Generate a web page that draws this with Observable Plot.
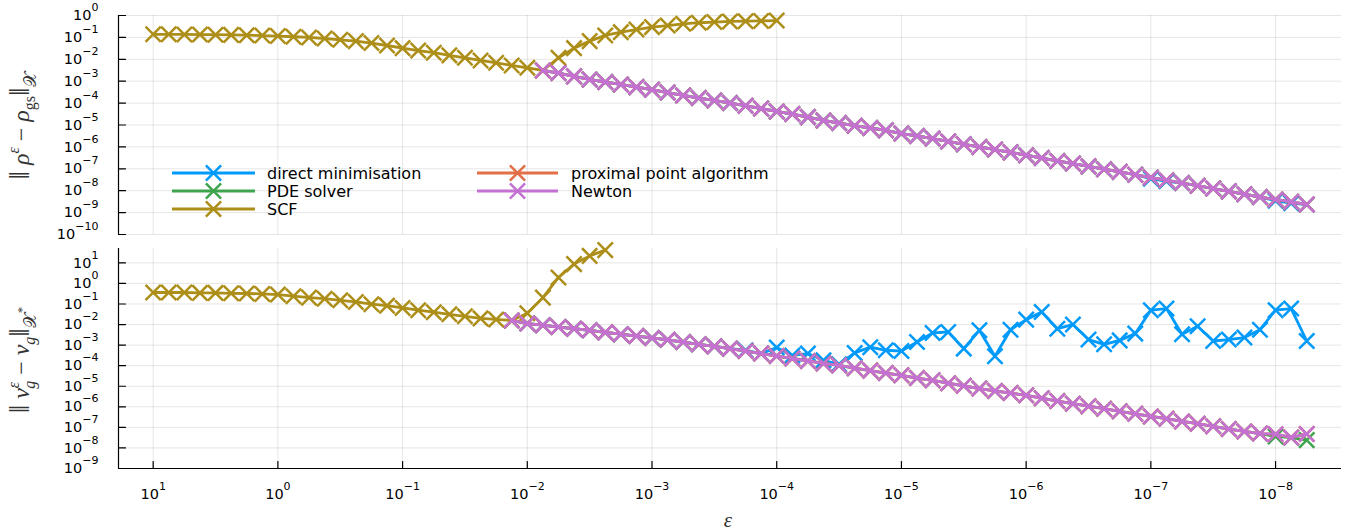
<!DOCTYPE html>
<html>
<head>
<meta charset="utf-8">
<script src="https://cdn.jsdelivr.net/npm/d3@7"></script>
<script src="https://cdn.jsdelivr.net/npm/@observablehq/plot@0.6"></script>
<style>
  body { margin: 0; background: #fff; }
  #fig { position: relative; width: 1363px; height: 531px; font-family: "DejaVu Sans", sans-serif; color: #000; }
  #fig > svg { display: block; }
  #fig svg.overlay { position: absolute; left: 0; top: 0; pointer-events: none; }
</style>
</head>
<body>
<div id="fig"></div>
<script>
// ε values: 8 per decade, from 10 down to 10^-8.25
const eps = [
  1e1, 7.499e0, 5.623e0, 4.217e0, 3.162e0, 2.371e0, 1.778e0, 1.334e0,
  1e0, 7.499e-1, 5.623e-1, 4.217e-1, 3.162e-1, 2.371e-1, 1.778e-1, 1.334e-1,
  1e-1, 7.499e-2, 5.623e-2, 4.217e-2, 3.162e-2, 2.371e-2, 1.778e-2, 1.334e-2,
  1e-2, 7.499e-3, 5.623e-3, 4.217e-3, 3.162e-3, 2.371e-3, 1.778e-3, 1.334e-3,
  1e-3, 7.499e-4, 5.623e-4, 4.217e-4, 3.162e-4, 2.371e-4, 1.778e-4, 1.334e-4,
  1e-4, 7.499e-5, 5.623e-5, 4.217e-5, 3.162e-5, 2.371e-5, 1.778e-5, 1.334e-5,
  1e-5, 7.499e-6, 5.623e-6, 4.217e-6, 3.162e-6, 2.371e-6, 1.778e-6, 1.334e-6,
  1e-6, 7.499e-7, 5.623e-7, 4.217e-7, 3.162e-7, 2.371e-7, 1.778e-7, 1.334e-7,
  1e-7, 7.499e-8, 5.623e-8, 4.217e-8, 3.162e-8, 2.371e-8, 1.778e-8, 1.334e-8,
  1e-8, 7.499e-9, 5.623e-9
];

const seriesNames = ["direct minimisation", "PDE solver", "SCF", "proximal point algorithm", "Newton"];
const seriesColors = ["#009AFA", "#3EA44E", "#AC8E18", "#E36F47", "#C371D2"];

// Density error, log10 values. Each array starts at the ε index given beside it.
const scfRhoStart = 0;
const scfRho = [
  -0.86, -0.86, -0.865, -0.87, -0.875, -0.885, -0.90, -0.915,
  -0.94, -0.97, -1.00, -1.05, -1.11, -1.17, -1.26, -1.37,
  -1.49, -1.60, -1.70, -1.82, -1.93, -2.05, -2.16, -2.28,
  -2.39, -2.51, -1.93, -1.49, -1.17, -0.91, -0.76, -0.64,
  -0.53, -0.46, -0.38, -0.33, -0.30, -0.27, -0.26, -0.25, -0.23
];
const newtonRhoStart = 25;
const newtonRho = [
  -2.51, -2.63, -2.78, -2.92, -3.04, -3.15, -3.27, -3.39, -3.52, -3.65,
  -3.77, -3.88, -4.00, -4.12, -4.25, -4.38, -4.50, -4.64, -4.79, -4.91,
  -5.03, -5.14, -5.24, -5.39, -5.50, -5.62, -5.75, -5.88, -6.00, -6.12,
  -6.25, -6.38, -6.51, -6.64, -6.76, -6.89, -7.02, -7.14, -7.27, -7.40,
  -7.52, -7.65, -7.77, -7.90, -8.03, -8.16, -8.29, -8.40, -8.51, -8.63
];
const directRhoStart = 25;
const directRho = [
  -2.51, -2.63, -2.78, -2.92, -3.04, -3.15, -3.27, -3.39, -3.52, -3.65,
  -3.77, -3.88, -4.00, -4.12, -4.25, -4.38, -4.50, -4.64, -4.79, -4.91,
  -5.03, -5.14, -5.24, -5.39, -5.50, -5.62, -5.75, -5.88, -6.00, -6.12,
  -6.25, -6.38, -6.51, -6.64, -6.76, -6.89, -7.02, -7.14, -7.27, -7.45,
  -7.57, -7.65, -7.77, -7.90, -8.03, -8.16, -8.29, -8.46, -8.57, -8.63
];
const pdeRhoStart = 25;
const pdeRho = newtonRho.slice();        // coincides with Newton
const proximalRhoStart = 25;
const proximalRho = newtonRho.slice();   // coincides with Newton

// Potential error, log10 values.
const scfVStart = 0;
const scfV = [
  -0.44, -0.44, -0.44, -0.46, -0.46, -0.48, -0.49, -0.51,
  -0.54, -0.62, -0.69, -0.74, -0.82, -0.90, -1.01, -1.08,
  -1.19, -1.30, -1.40, -1.50, -1.60, -1.70, -1.75, -1.80,
  -1.45, -0.69, 0.29, 0.94, 1.34, 1.62
];
const newtonVStart = 23;
const newtonV = [
  -1.80, -1.95, -2.03, -2.12, -2.20, -2.28, -2.38, -2.47, -2.56, -2.65,
  -2.74, -2.85, -2.96, -3.06, -3.17, -3.29, -3.41, -3.53, -3.65, -3.77,
  -3.89, -3.99, -4.12, -4.24, -4.36, -4.47, -4.60, -4.71, -4.85, -4.98,
  -5.11, -5.23, -5.33, -5.44, -5.58, -5.72, -5.85, -5.97, -6.09, -6.22,
  -6.34, -6.47, -6.58, -6.71, -6.82, -6.95, -7.08, -7.20, -7.30, -7.33,
  -7.49, -7.32
];
const directVStart = 23;
const directV = [
  -1.80, -1.95, -2.03, -2.12, -2.20, -2.28, -2.38, -2.47, -2.56, -2.65,
  -2.74, -2.85, -2.96, -3.06, -3.17, -3.25, -3.41, -3.12, -3.50, -3.41,
  -3.74, -3.93, -3.38, -3.10, -3.25, -3.29, -2.85, -2.41, -2.36, -3.17,
  -2.28, -3.54, -2.25, -1.76, -1.39, -2.20, -2.00, -2.73, -2.96, -2.77,
  -2.44, -1.30, -1.22, -2.47, -2.08, -2.80, -2.73, -2.63, -2.25, -1.30,
  -1.22, -2.80
];
const pdeVStart = 23;
const pdeV = [
  -1.80, -1.95, -2.03, -2.12, -2.20, -2.28, -2.38, -2.47, -2.56, -2.65,
  -2.74, -2.85, -2.96, -3.06, -3.17, -3.29, -3.41, -3.53, -3.65, -3.77,
  -3.89, -3.99, -4.12, -4.24, -4.36, -4.47, -4.60, -4.71, -4.85, -4.98,
  -5.11, -5.23, -5.33, -5.44, -5.58, -5.72, -5.85, -5.97, -6.09, -6.22,
  -6.34, -6.47, -6.58, -6.71, -6.82, -6.95, -7.08, -7.20, -7.30, -7.44,
  -7.50, -7.62
];
const proximalVStart = 23;
const proximalV = newtonV.slice();       // coincides with Newton

// Tick values
const xTicks = [1e1, 1e0, 1e-1, 1e-2, 1e-3, 1e-4, 1e-5, 1e-6, 1e-7, 1e-8];
const rhoTicks = [1e0, 1e-1, 1e-2, 1e-3, 1e-4, 1e-5, 1e-6, 1e-7, 1e-8, 1e-9, 1e-10];
const vTicks = [1e1, 1e0, 1e-1, 1e-2, 1e-3, 1e-4, 1e-5, 1e-6, 1e-7, 1e-8, 1e-9];

const xDomain = [18.97, 2.96e-9];
const rhoDomain = [1e-10, 1];
const vDomain = [1e-9, 50];

function rows(logs, start, name) {
  return logs.map((v, i) => ({eps: eps[start + i], err: 10 ** v, series: name}));
}

const rhoData = [
  rows(directRho, directRhoStart, seriesNames[0]),
  rows(pdeRho, pdeRhoStart, seriesNames[1]),
  rows(scfRho, scfRhoStart, seriesNames[2]),
  rows(proximalRho, proximalRhoStart, seriesNames[3]),
  rows(newtonRho, newtonRhoStart, seriesNames[4])
];
const vData = [
  rows(directV, directVStart, seriesNames[0]),
  rows(pdeV, pdeVStart, seriesNames[1]),
  rows(scfV, scfVStart, seriesNames[2]),
  rows(proximalV, proximalVStart, seriesNames[3]),
  rows(newtonV, newtonVStart, seriesNames[4])
];

const expLabel = (d) => `10^${Math.round(Math.log10(d))}`;
const tickShape = {draw(context, l) { context.moveTo(0, 0); context.lineTo(0, -l); }};

function seriesMarks(data) {
  const marks = [];
  data.forEach((d, i) => {
    marks.push(Plot.line(d, {x: "eps", y: "err", stroke: seriesColors[i], strokeWidth: 2.8}));
    marks.push(Plot.dot(d, {x: "eps", y: "err", symbol: "times", r: 7, stroke: seriesColors[i], strokeWidth: 2.5}));
  });
  return marks;
}

function panel({data, yDomain, yTicks, height, marginTop, marginBottom, bottomAxis}) {
  const marks = [
    Plot.gridX(xTicks, {stroke: "#000", strokeOpacity: 0.1, strokeWidth: 1}),
    Plot.gridY(yTicks, {stroke: "#000", strokeOpacity: 0.1, strokeWidth: 1}),
    ...seriesMarks(data),
    Plot.ruleX([xDomain[0]], {stroke: "#000", strokeWidth: 1.2}),
    Plot.vector(yTicks, {y: (d) => d, frameAnchor: "left", length: 7, rotate: 90, anchor: "start", shape: tickShape, stroke: "#000", strokeWidth: 1.2}),
    Plot.axisY(yTicks, {anchor: "left", tickSize: 0, tickPadding: 20, tickFormat: expLabel, fontSize: 14.5, label: null})
  ];
  if (bottomAxis) {
    marks.push(
      Plot.ruleY([yDomain[0]], {stroke: "#000", strokeWidth: 1.2}),
      Plot.vector(xTicks, {x: (d) => d, frameAnchor: "bottom", length: 7, rotate: 0, anchor: "start", shape: tickShape, stroke: "#000", strokeWidth: 1.2}),
      Plot.axisX(xTicks, {anchor: "bottom", tickSize: 0, tickPadding: 20, tickFormat: expLabel, fontSize: 14.5, label: null})
    );
  }
  return Plot.plot({
    width: 1363,
    height,
    marginLeft: 118,
    marginRight: 22,
    marginTop,
    marginBottom,
    style: {fontFamily: "DejaVu Sans, sans-serif", fontSize: "14px", color: "#000", background: "transparent"},
    x: {type: "log", domain: xDomain, axis: null},
    y: {type: "log", domain: yDomain, axis: null},
    marks
  });
}

// Turn "10^-3" tick labels into 10 with a raised exponent
function raiseExponents(svg) {
  svg.querySelectorAll('g[aria-label$="tick label"] text').forEach((t) => {
    const s = t.textContent;
    if (!s.includes("^")) return;
    const [base, ex] = s.split("^");
    t.textContent = "";
    const ns = "http://www.w3.org/2000/svg";
    const b = document.createElementNS(ns, "tspan");
    b.textContent = base;
    const e = document.createElementNS(ns, "tspan");
    e.textContent = ex.replace("-", "\u2212");
    e.setAttribute("dy", "-9");
    e.setAttribute("font-size", "11");
    t.append(b, e);
  });
}

const fig = document.getElementById("fig");

const rhoPanel = panel({data: rhoData, yDomain: rhoDomain, yTicks: rhoTicks, height: 241, marginTop: 15, marginBottom: 7, bottomAxis: false});
const vPanel = panel({data: vData, yDomain: vDomain, yTicks: vTicks, height: 290, marginTop: 7, marginBottom: 63, bottomAxis: true});
raiseExponents(rhoPanel);
raiseExponents(vPanel);
fig.append(rhoPanel, vPanel);

// Overlay: axis titles and legend
const overlay = d3.create("svg")
  .attr("class", "overlay")
  .attr("width", 1363)
  .attr("height", 531);

const mathFont = "Liberation Serif, DejaVu Serif, serif";

function mathLabel(x, y, parts) {
  const t = overlay.append("text")
    .attr("transform", `translate(${x},${y}) rotate(-90)`)
    .attr("text-anchor", "middle")
    .attr("font-family", mathFont)
    .attr("font-size", 24)
    .attr("fill", "#333");
  parts.forEach((p) => {
    const s = t.append("tspan").text(p.text);
    if (p.italic) s.attr("font-style", "italic");
    if (p.size) s.attr("font-size", p.size);
    if (p.dy) s.attr("dy", p.dy);
    if (p.dx) s.attr("dx", p.dx);
  });
}

// ‖ρ^ε − ρ_gs‖_𝒳
mathLabel(29, 126, [
  {text: "\u2016", size: 30},
  {text: " \u03C1", italic: true},
  {text: "\u03B5", italic: true, size: 16, dy: -10},
  {text: " \u2212 ", dy: 10},
  {text: "\u03C1", italic: true},
  {text: "gs", size: 16, dy: 6},
  {text: "\u2016", size: 30, dy: -6},
  {text: "\uD835\uDCB3", size: 17, dy: 7}
]);

// ‖v_g^ε − v_g‖_𝒳*
mathLabel(29, 360, [
  {text: "\u2016", size: 30},
  {text: " v", italic: true},
  {text: "\u03B5", italic: true, size: 16, dy: -10},
  {text: "g", italic: true, size: 16, dy: 16, dx: -7},
  {text: " \u2212 ", dy: -6},
  {text: "v", italic: true},
  {text: "g", italic: true, size: 16, dy: 6},
  {text: "\u2016", size: 30, dy: -6},
  {text: "\uD835\uDCB3", size: 17, dy: 7},
  {text: "*", size: 13, dy: -10}
]);

overlay.append("text")
  .attr("x", 728).attr("y", 527)
  .attr("text-anchor", "middle")
  .attr("font-family", mathFont)
  .attr("font-style", "italic")
  .attr("font-size", 21)
  .attr("fill", "#333")
  .text("\u03B5");

// Legend: two columns, three rows
const legendCols = [{x1: 172, x2: 255, text: 267}, {x1: 477, x2: 558, text: 571}];
const legendRows = [173, 191, 209];
const m = 7.6;
seriesNames.forEach((name, i) => {
  const col = legendCols[Math.floor(i / 3)];
  const y = legendRows[i % 3];
  const g = overlay.append("g");
  g.append("line")
    .attr("x1", col.x1).attr("x2", col.x2).attr("y1", y).attr("y2", y)
    .attr("stroke", seriesColors[i]).attr("stroke-width", 2.8);
  const cx = (col.x1 + col.x2) / 2;
  g.append("path")
    .attr("d", `M${cx - m},${y - m}L${cx + m},${y + m}M${cx + m},${y - m}L${cx - m},${y + m}`)
    .attr("stroke", seriesColors[i]).attr("stroke-width", 2.5).attr("fill", "none");
  g.append("text")
    .attr("x", col.text).attr("y", y).attr("dy", "0.35em")
    .attr("font-family", "DejaVu Sans, sans-serif").attr("font-size", 16)
    .attr("fill", "#000")
    .text(name);
});

fig.append(overlay.node());
</script>
</body>
</html>
